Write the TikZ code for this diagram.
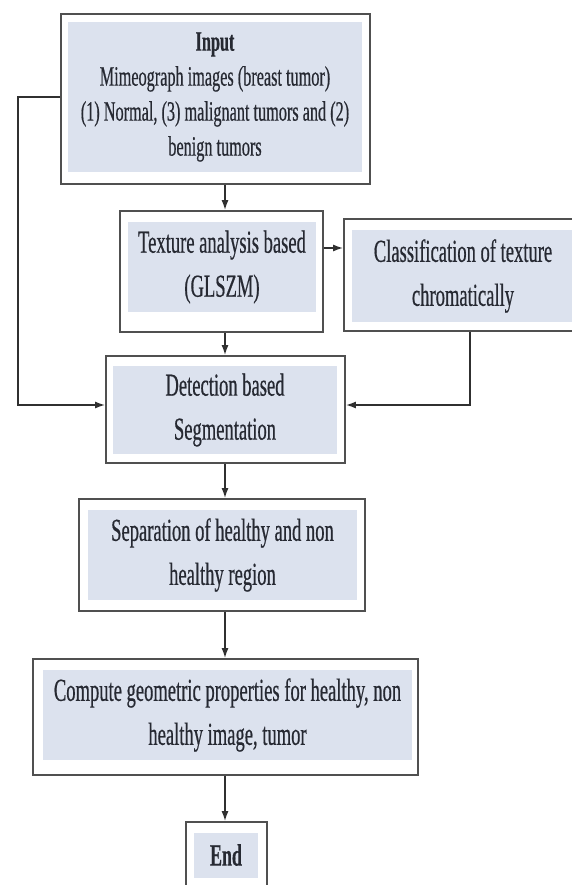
\documentclass[tikz,border=0pt]{standalone}
\usepackage{fontspec}
\setmainfont[FakeStretch=0.58,FakeBold=0.5]{Liberation Serif}
\usetikzlibrary{arrows.meta}
\definecolor{boxfill}{HTML}{DCE2EE}
\definecolor{boxline}{HTML}{505050}
\definecolor{txtc}{HTML}{262932}
\definecolor{linec}{HTML}{303030}
\tikzset{
  outerbox/.style={draw=boxline, line width=1.8pt, fill=white, inner sep=0pt},
  innerbox/.style={fill=boxfill, inner sep=0pt, align=center, text=txtc,
                   font=\fontsize{32}{44}\selectfont},
  conn/.style={draw=linec, line width=1.5pt, -{Latex[length=10pt,width=7pt]}},
  plainconn/.style={draw=linec, line width=1.5pt}
}
\begin{document}
\begin{tikzpicture}[x=1pt,y=-1pt]
\useasboundingbox (0,0) rectangle (572,885);
\fill[white] (0,0) rectangle (572,885);

% Input
\node[outerbox, minimum width=309pt, minimum height=170pt] (input) at (215.5,99) {};
\node[innerbox, minimum width=294pt, minimum height=150pt,
      font=\fontsize{28}{35}\selectfont] (inputin) at (215,97)
  {{\bfseries Input}\\Mimeograph images (breast tumor)\\(1) Normal, (3) malignant tumors and (2)\\benign tumors};

% Texture
\node[outerbox, minimum width=203pt, minimum height=121pt] (texture) at (221.5,271.5) {};
\node[innerbox, minimum width=188pt, minimum height=90pt] (texturein) at (222,267)
  {Texture analysis based\\(GLSZM)};

% Classification
\node[outerbox, minimum width=238pt, minimum height=112pt] (classif) at (463,275) {};
\node[innerbox, minimum width=222pt, minimum height=91pt] (classifin) at (463,276)
  {Classification of texture\\chromatically};

% Detection
\node[outerbox, minimum width=239pt, minimum height=107pt] (detect) at (225.5,409.5) {};
\node[innerbox, minimum width=224pt, minimum height=88pt] (detectin) at (225,410)
  {Detection based\\Segmentation};

% Separation
\node[outerbox, minimum width=286pt, minimum height=112pt] (separ) at (222,555) {};
\node[innerbox, minimum width=269pt, minimum height=90pt] (separin) at (222.5,555)
  {Separation of healthy and non\\healthy region};

% Compute
\node[outerbox, minimum width=385pt, minimum height=116pt] (compute) at (225.5,717) {};
\node[innerbox, minimum width=369pt, minimum height=90pt] (computein) at (227.5,715)
  {Compute geometric properties for healthy, non\\healthy image, tumor};

% End
\node[outerbox, minimum width=81pt, minimum height=68pt] (endbox) at (226.5,856) {};
\node[innerbox, minimum width=64pt, minimum height=45pt,
      font=\fontsize{31}{35}\selectfont\bfseries] (endin) at (226,855) {End};

% helper coordinates
\coordinate (ax) at (225,0);
\coordinate (ay) at (0,248);
\coordinate (ly) at (0,97);
\coordinate (dy) at (0,405);
\coordinate (lx) at (18,0);
\coordinate (rx) at (470,0);

% connectors
\draw[conn] (input.south -| ax) -- (texture.north -| ax);
\draw[conn] (texture.east |- ay) -- (classif.west |- ay);
\draw[conn] (texture.south -| ax) -- (detect.north -| ax);
\draw[conn] (input.west |- ly) -- (lx |- ly) -- (lx |- dy) -- (detect.west |- dy);
\draw[conn] (classif.south -| rx) -- (rx |- dy) -- (detect.east |- dy);
\draw[conn] (detect.south -| ax) -- (separ.north -| ax);
\draw[conn] (separ.south -| ax) -- (compute.north -| ax);
\draw[conn] (compute.south -| ax) -- (endbox.north -| ax);
\end{tikzpicture}
\end{document}
